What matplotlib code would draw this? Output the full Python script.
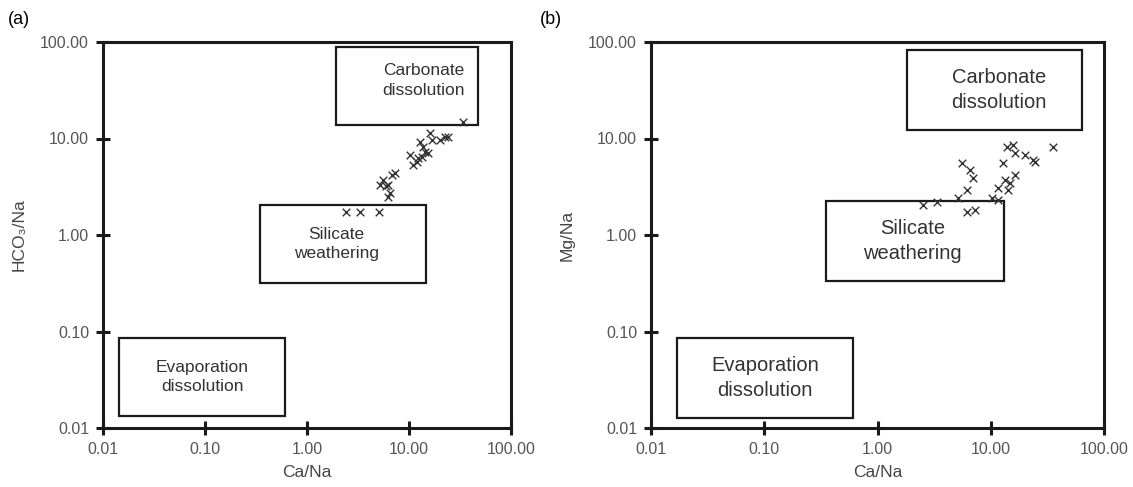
import matplotlib.pyplot as plt
from matplotlib.patches import Rectangle

plt.rcParams['font.family'] = ['Liberation Sans', 'DejaVu Sans']

# ratios
ca_na_a = [2.41, 3.3, 5.1, 5.2, 5.6, 6.2, 6.8, 7.3, 6.5, 6.2, 5.9,
           10.2, 10.9, 12.0, 12.2, 12.8, 13.4, 13.7, 14.4, 15.4, 16.1, 16.8,
           20.1, 22.5, 24.1, 33.8]
hco3_na = [1.73, 1.73, 1.73, 3.3, 3.7, 3.3, 4.2, 4.4, 2.7, 2.5, 3.2,
           6.7, 5.3, 5.7, 6.3, 9.2, 6.4, 8.2, 7.2, 7.1, 11.4, 9.6,
           9.6, 10.4, 10.4, 14.8]

ca_na_b = [2.5, 3.35, 5.1, 6.2, 7.0, 6.6, 5.6, 6.2, 7.3, 10.3, 11.6, 13.4,
           14.2, 14.8, 16.4, 12.8, 13.9, 15.7, 16.4, 20.1, 23.6, 24.6, 35.5, 11.6]
mg_na = [2.05, 2.2, 2.42, 2.92, 3.9, 4.72, 5.57, 1.73, 1.82, 2.42, 3.07, 3.72,
         2.92, 3.46, 4.19, 5.57, 8.17, 8.57, 7.08, 6.75, 5.98, 5.7, 8.17, 2.31]

tick_vals = [0.01, 0.1, 1, 10, 100]
tick_labels = ["0.01", "0.10", "1.00", "10.00", "100.00"]

# boxes: (x0, x1, y0, y1, text, text offset in points)
boxes_a = [(1.92, 47.4, 13.8, 88.7, "Carbonate\ndissolution", (12, 4)),
           (0.346, 14.7, 0.318, 2.05, "Silicate\nweathering", (-5, 0)),
           (0.0144, 0.608, 0.0133, 0.0857, "Evaporation\ndissolution", (0, 0))]
boxes_b = [(1.82, 64.0, 12.2, 82.6, "Carbonate\ndissolution", (3, 0)),
           (0.351, 13.1, 0.333, 2.25, "Silicate\nweathering", (-2, 0)),
           (0.017, 0.608, 0.0127, 0.0857, "Evaporation\ndissolution", (0, 0))]

fig = plt.figure(figsize=(11.33, 4.87), dpi=100)
ax1 = fig.add_axes([103/1133, 1-428/487, 408/1133, 386/487])
ax2 = fig.add_axes([651/1133, 1-428/487, 453/1133, 386/487])


def draw_panel(ax, x, y, boxes, ylabel, fsize):
  ax.set_xscale('log')
  ax.set_yscale('log')
  ax.set_xlim(0.01, 100)
  ax.set_ylim(0.01, 100)
  for s in ax.spines.values():
    s.set_linewidth(2.2)
    s.set_color('#1a1a1a')
  ax.set_xticks(tick_vals)
  ax.set_xticklabels(tick_labels)
  ax.set_yticks(tick_vals)
  ax.set_yticklabels(tick_labels)
  ax.minorticks_off()
  ax.tick_params(direction='inout', length=10, width=2.2, color='#1a1a1a',
                 labelsize=11.5, labelcolor='#555555', pad=5)
  for (x0, x1, y0, y1, txt, off) in boxes:
    ax.add_patch(Rectangle((x0, y0), x1 - x0, y1 - y0, fill=False,
                           lw=1.6, ec='#1a1a1a'))
    ax.annotate(txt, ((x0 * x1) ** 0.5, (y0 * y1) ** 0.5), xytext=off,
                textcoords='offset points', ha='center', va='center',
                fontsize=fsize, color='#333333', linespacing=1.4)
  ax.scatter(x, y, marker='x', s=30, color='#333333', linewidths=1.0, zorder=3)
  ax.set_xlabel("Ca/Na", fontsize=12.5, color='#444444', labelpad=6)
  ax.set_ylabel(ylabel, fontsize=12.5, color='#444444', labelpad=10)


draw_panel(ax1, ca_na_a, hco3_na, boxes_a, "HCO₃/Na", 12.5)
draw_panel(ax2, ca_na_b, mg_na, boxes_b, "Mg/Na", 14.5)

fig.text(8/1133, 1-19/487, "(a)", fontsize=13, va='center')
fig.text(540/1133, 1-19/487, "(b)", fontsize=13, va='center')

plt.savefig("out.png", dpi=100)
